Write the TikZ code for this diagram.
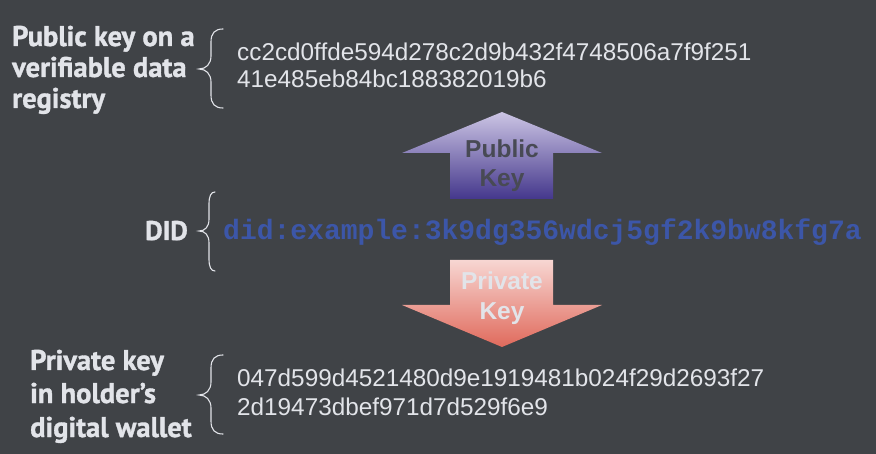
\documentclass[tikz,border=0pt]{standalone}
\usepackage{fontspec}
\setmainfont{Liberation Sans}
\newfontfamily\lblfont{PT Sans}[BoldFeatures={FakeBold=1.2}]
\newfontfamily\didfont{Liberation Mono}
\definecolor{bg}{RGB}{64,67,71}
\definecolor{lightfg}{RGB}{226,228,233}
\definecolor{bracecol}{RGB}{226,228,233}
\definecolor{didblue}{RGB}{60,86,168}
\definecolor{pubtop}{RGB}{204,197,228}
\definecolor{pubbot}{RGB}{68,55,140}
\definecolor{privtop}{RGB}{247,214,210}
\definecolor{privbot}{RGB}{224,106,92}
\definecolor{pubtxt}{RGB}{72,74,84}
\begin{document}
\begin{tikzpicture}[x=1pt,y=-1pt,
  lbl/.style={anchor=base west, inner sep=0pt, text=lightfg,
    font=\lblfont\bfseries\fontsize{28.5}{32}\selectfont},
  hex/.style={anchor=base west, inner sep=0pt, text=lightfg,
    font=\fontsize{24.3}{28}\selectfont},
  didtxt/.style={anchor=base west, inner sep=0pt, text=didblue,
    font=\didfont\bfseries\fontsize{28}{32}\selectfont},
  arrowtxt/.style={anchor=base, inner sep=0pt,
    font=\bfseries\fontsize{24.5}{28}\selectfont},
  bracestyle/.style={draw=bracecol, line width=1.1pt, line cap=round}]
\useasboundingbox (0,0) rectangle (876,454);
\fill[bg] (0,0) rectangle (876,454);

% top label
\node[lbl] (pubA) at (12,46) {Public key on a};
\node[lbl] (pubB) at (12,77) {verifiable data};
\node[lbl] (pubC) at (12,108) {registry};
\draw[bracestyle] (223,29) .. controls (215,29) and (211,33) .. (211,42) -- (211,56)
  .. controls (211,64) and (206,69) .. (199,69)
  .. controls (206,69) and (211,74) .. (211,82) -- (211,95)
  .. controls (211,104) and (215,108) .. (223,108);
\node[hex] (pubhexA) at (237,61) {cc2cd0ffde594d278c2d9b432f4748506a7f9f251};
\node[hex] (pubhexB) at (237,88) {41e485eb84bc188382019b6};

% public key arrow
\shade[top color=pubtop, bottom color=pubbot]
  (502,112) -- (602,153) -- (553,153) -- (553,199) -- (450,199) -- (450,153) -- (402,153) -- cycle;
\node[arrowtxt, text=pubtxt] (pubkA) at (502,158) {Public};
\node[arrowtxt, text=pubtxt] (pubkB) at (502,187) {Key};

% DID
\node[lbl, font=\lblfont\bfseries\fontsize{27}{32}\selectfont] (did) at (145,240) {DID};
\draw[bracestyle] (215,192) .. controls (211,192) and (209,196) .. (209,204) -- (209,219)
  .. controls (209,227) and (205,231) .. (199,231)
  .. controls (205,231) and (209,235) .. (209,243) -- (209,259)
  .. controls (209,267) and (211,271) .. (215,271);
\node[didtxt] (didval) at (223,240) {did:example:3k9dg356wdcj5gf2k9bw8kfg7a};

% private key arrow
\shade[top color=privtop, bottom color=privbot]
  (450,260) -- (553,260) -- (553,305) -- (602,305) -- (502,347) -- (402,305) -- (450,305) -- cycle;
\node[arrowtxt, text=lightfg] (privkA) at (502,290) {Private};
\node[arrowtxt, text=lightfg] (privkB) at (502,320) {Key};

% bottom label
\node[lbl] (privA) at (30,370) {Private key};
\node[lbl] (privB) at (30,403) {in holder’s};
\node[lbl] (privC) at (30,437) {digital wallet};
\draw[bracestyle] (223,355) .. controls (215,355) and (211,359) .. (211,368) -- (211,382)
  .. controls (211,390) and (206,395) .. (199,395)
  .. controls (206,395) and (211,400) .. (211,408) -- (211,421)
  .. controls (211,430) and (215,434) .. (223,434);
\node[hex] (privhexA) at (237,387) {047d599d4521480d9e1919481b024f29d2693f27};
\node[hex] (privhexB) at (237,415) {2d19473dbef971d7d529f6e9};
\end{tikzpicture}
\end{document}
